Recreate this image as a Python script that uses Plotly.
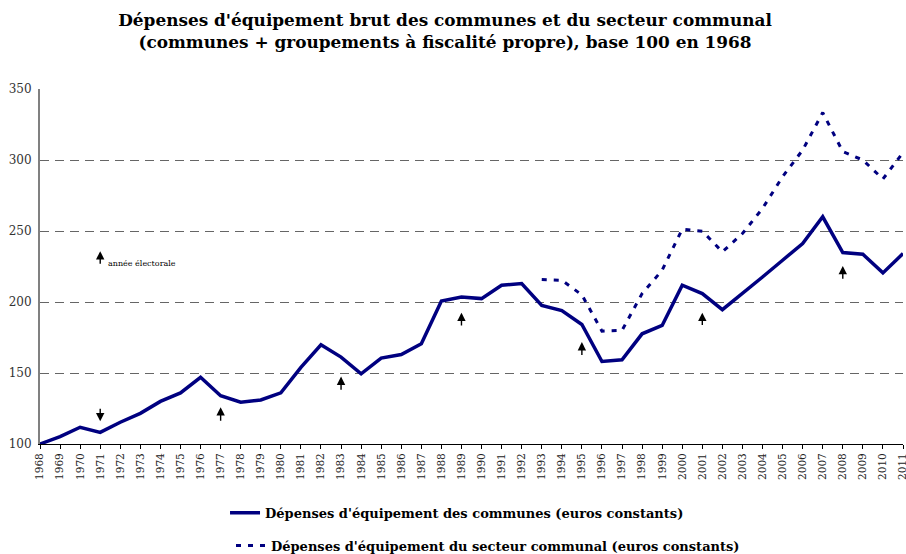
import plotly.graph_objects as go

years = list(range(1968, 2012))

communes = [100, 105.2, 111.8, 108.2, 115.3, 121.6, 130, 136, 147, 134,
            129.4, 131, 136, 154, 169.9, 161.2, 149.4, 160.5, 163, 170.6,
            200.7, 203.5, 202.4, 211.8, 213, 197.6, 194, 184.2, 158.1, 159.3,
            177.6, 183.5, 211.8, 205.9, 194.6, 205.9, 217.6, 229.4, 241.2, 260,
            234.8, 233.6, 220.5, 234.1]

secteur = [None] * 25 + [215.8, 215.3, 205, 179.5, 180, 205.9, 222.4, 251.3,
                         249.9, 235.3, 248.2, 265.9, 288.2, 307, 333.4, 305.9,
                         300, 286.6, 305.2]

# années électorales : pointe et queue des flèches
election_years = [1971, 1977, 1983, 1989, 1995, 2001, 2008]
arrow_tip = [116, 125.9, 147.5, 192.5, 171.8, 192.5, 225.4]
arrow_tail = [125.9, 115.3, 137.2, 182.4, 161.6, 182.8, 215.3]

navy = "#000080"
serif = "DejaVu Serif"
W, H = 906, 554

fig = go.Figure()
fig.add_trace(go.Scatter(x=years, y=communes, mode="lines",
                         line=dict(color=navy, width=3.5),
                         name="<b>Dépenses d'équipement des communes (euros constants)</b>",
                         legend="legend"))
fig.add_trace(go.Scatter(x=years, y=secteur, mode="lines",
                         line=dict(color=navy, width=3, dash="5px,7px"),
                         name="<b>Dépenses d'équipement du secteur communal (euros constants)</b>",
                         legend="legend2"))

for yr, tip, tail in zip(election_years, arrow_tip, arrow_tail):
    fig.add_annotation(x=yr, y=tip, ax=yr, ay=tail, axref="x", ayref="y",
                       text="", showarrow=True, arrowhead=2, arrowsize=1.2,
                       arrowwidth=1.4, arrowcolor="black")

# légende des flèches
fig.add_annotation(x=1971, y=235.8, ax=1971, ay=225.9, axref="x", ayref="y",
                   text="", showarrow=True, arrowhead=2, arrowsize=1.2,
                   arrowwidth=1.4, arrowcolor="black")
fig.add_annotation(x=1971.3, y=227, text="année électorale", showarrow=False,
                   xanchor="left", yanchor="middle",
                   font=dict(family=serif, size=8, color="black"))

fig.update_layout(
    width=W, height=H,
    showlegend=True,
    margin=dict(l=40, r=3, t=89, b=110, autoexpand=False),
    paper_bgcolor="white", plot_bgcolor="white",
    title=dict(text="<b>Dépenses d'équipement brut des communes et du secteur communal<br>"
                    "(communes + groupements à fiscalité propre), base 100 en 1968</b>",
               x=445 / W, xref="container", xanchor="center",
               y=0.9536, yref="container", yanchor="top",
               font=dict(family=serif, size=16.9, color="black")),
    xaxis=dict(range=[1968, 2011], tickmode="array", tickvals=years,
               ticktext=[str(y) for y in years], tickangle=-90,
               tickfont=dict(family=serif, size=10.5, color="#222"),
               ticklabeloverflow="allow",
               showgrid=False, zeroline=False,
               showline=True, linecolor="black", linewidth=1,
               ticks="outside", ticklen=4, tickcolor="black"),
    yaxis=dict(range=[100, 350], tickvals=[100, 150, 200, 250, 300, 350],
               tickfont=dict(family=serif, size=12, color="#333"),
               showgrid=True, gridcolor="#666", griddash="9px,6px", gridwidth=1,
               zeroline=False, showline=True, linecolor="#808080", linewidth=2,
               ticks="", ticklabelstandoff=4),
    legend=dict(x=0.2144, y=-0.194, xref="paper", yref="paper",
                xanchor="left", yanchor="middle", bgcolor="rgba(0,0,0,0)",
                font=dict(family=serif, size=13, color="black")),
    legend2=dict(x=0.2213, y=-0.286, xref="paper", yref="paper",
                 xanchor="left", yanchor="middle", bgcolor="rgba(0,0,0,0)",
                 font=dict(family=serif, size=13, color="black")),
)

# la page par défaut ajoute une marge de 8px autour de la figure
fig.write_html("out.html", config={"displayModeBar": False},
               post_script="document.body.style.margin='0';document.body.style.overflow='hidden';")
